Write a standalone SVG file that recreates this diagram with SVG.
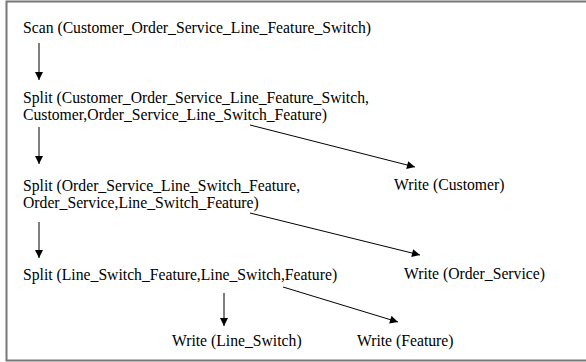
<svg xmlns="http://www.w3.org/2000/svg" width="586" height="362" viewBox="0 0 586 362">
<defs>
<marker id="ah" viewBox="0 0 10 10" refX="10" refY="5" markerWidth="10" markerHeight="8" markerUnits="userSpaceOnUse" orient="auto">
<path d="M0,0 L10,5 L0,10 z" fill="#000"/>
</marker>
<style>
text{font-family:'Liberation Serif','Times New Roman',serif;font-size:15.7px;fill:#000}
.c{stroke:#000;stroke-width:1;fill:none;marker-end:url(#ah)}
</style>
</defs>
<rect x="6.5" y="1.5" width="590" height="359" fill="#fff" stroke="#777" stroke-width="2"/>
<g id="scan"><text x="23" y="33">Scan (Customer_Order_Service_Line_Feature_Switch)</text></g>
<g id="split1"><text x="23" y="103">Split (Customer_Order_Service_Line_Feature_Switch,</text><text x="23" y="120">Customer,Order_Service_Line_Switch_Feature)</text></g>
<g id="split2"><text x="23" y="191">Split (Order_Service_Line_Switch_Feature,</text><text x="23" y="208">Order_Service,Line_Switch_Feature)</text></g>
<g id="split3"><text x="23" y="280">Split (Line_Switch_Feature,Line_Switch,Feature)</text></g>
<g id="wcust"><text x="394" y="190">Write (Customer)</text></g>
<g id="word"><text x="404" y="279">Write (Order_Service)</text></g>
<g id="wline"><text x="172" y="346">Write (Line_Switch)</text></g>
<g id="wfeat"><text x="357" y="346">Write (Feature)</text></g>
<g id="connectors">
<line class="c" x1="39" y1="43" x2="39" y2="80"/>
<line class="c" x1="39" y1="127" x2="39" y2="164"/>
<line class="c" x1="39" y1="222" x2="39" y2="258"/>
<line class="c" x1="224" y1="293" x2="224" y2="326"/>
<line class="c" x1="250" y1="125" x2="415" y2="167"/>
<line class="c" x1="250" y1="213" x2="420" y2="255"/>
<line class="c" x1="283" y1="287" x2="398" y2="322"/>
</g>
</svg>
